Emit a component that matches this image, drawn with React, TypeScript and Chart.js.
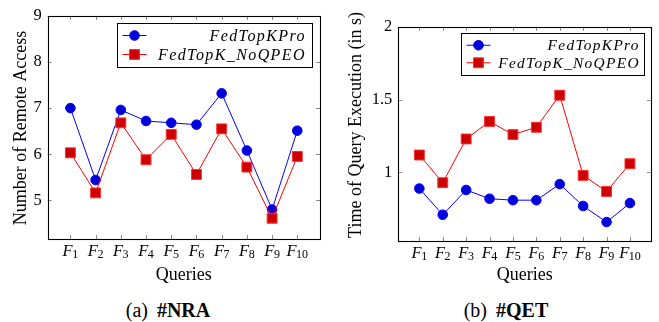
import React, { useEffect, useRef } from 'react';
import { Chart, registerables } from 'chart.js';

Chart.register(...registerables);

// ---------------- data ----------------
const queryNames = ['F', 'F', 'F', 'F', 'F', 'F', 'F', 'F', 'F', 'F'];
const querySubs = ['1', '2', '3', '4', '5', '6', '7', '8', '9', '10'];
const seriesNames = ['FedTopKPro', 'FedTopK_NoQPEO'];
const nraFedTopKPro = [7.0, 5.44, 6.96, 6.72, 6.68, 6.64, 7.32, 6.08, 4.8, 6.51];
const nraNoQPEO = [6.03, 5.16, 6.68, 5.88, 6.43, 5.56, 6.55, 5.72, 4.61, 5.95];
const qetFedTopKPro = [0.89, 0.71, 0.88, 0.82, 0.81, 0.81, 0.92, 0.77, 0.66, 0.79];
const qetNoQPEO = [1.12, 0.93, 1.23, 1.35, 1.26, 1.31, 1.53, 0.98, 0.87, 1.06];
const nraTicks = [5, 6, 7, 8, 9];
const qetTicks = [1, 1.5, 2];
const queryTicks = [1, 2, 3, 4, 5, 6, 7, 8, 9, 10];

type Panel = {
  left: number;
  width: number;
  height: number;
  yAxisWidth: number;
  padRight: number;
  padTop: number;
  xAxisHeight: number;
  yMin: number;
  yMax: number;
  yTicks: number[];
  blue: number[];
  red: number[];
  yTitle: string;
  yTitleX: number;
  yTitleY: number;
  legend: { dx: number; dy: number; w: number; h: number; rowGap: number; sampleW: number; textRight: number; font: number; spacing: number };
};

const panels: Panel[] = [
  {
    left: 0, width: 330, height: 290,
    yAxisWidth: 47.7, padRight: 10, padTop: 13, xAxisHeight: 51,
    yMin: 4.16, yMax: 9, yTicks: nraTicks,
    blue: nraFedTopKPro, red: nraNoQPEO,
    yTitle: 'Number of Remote Access', yTitleX: 21, yTitleY: 128,
    legend: { dx: 8, dy: 7, w: 195, h: 44, rowGap: 19, sampleW: 24, textRight: 8, font: 16, spacing: 1.4 },
  },
  {
    left: 330, width: 329, height: 290,
    yAxisWidth: 68.3, padRight: 4, padTop: 26.7, xAxisHeight: 49,
    yMin: 0.53, yMax: 2, yTicks: qetTicks,
    blue: qetFedTopKPro, red: qetNoQPEO,
    yTitle: 'Time of Query Execution (in s)', yTitleX: 26, yTitleY: 125,
    legend: { dx: 7, dy: 6.3, w: 183, h: 42, rowGap: 17.5, sampleW: 24, textRight: 6, font: 15.4, spacing: 1.3 },
  },
];

const TEXT_FONT = '"Liberation Serif", "DejaVu Serif", serif';

const frameAndLegend = {
  id: 'frameAndLegend',
  beforeDatasetsDraw(chart: any, _args: any, opts: any) {
    const p: Panel = opts.panel;
    const { ctx, chartArea: a } = chart;
    const xs = chart.scales.x;
    const ys = chart.scales.y;
    ctx.save();
    // ticks inward on all four sides
    ctx.strokeStyle = '#8a8a8a';
    ctx.lineWidth = 1;
    const tl = 4;
    ctx.beginPath();
    for (const t of xs.ticks) {
      const x = Math.round(xs.getPixelForValue(t.value)) + 0.5;
      ctx.moveTo(x, a.bottom); ctx.lineTo(x, a.bottom - tl);
      ctx.moveTo(x, a.top); ctx.lineTo(x, a.top + tl);
    }
    for (const t of ys.ticks) {
      const y = Math.round(ys.getPixelForValue(t.value)) + 0.5;
      ctx.moveTo(a.left, y); ctx.lineTo(a.left + tl, y);
      ctx.moveTo(a.right, y); ctx.lineTo(a.right - tl, y);
    }
    ctx.stroke();
    // frame
    ctx.strokeStyle = '#000';
    ctx.lineWidth = 1.1;
    ctx.strokeRect(Math.round(a.left) + 0.5, Math.round(a.top) + 0.5, Math.round(a.right - a.left), Math.round(a.bottom - a.top));
    // x tick labels: italic F with a subscript index
    ctx.fillStyle = '#000';
    ctx.textBaseline = 'alphabetic';
    ctx.textAlign = 'left';
    const mainFont = `italic 16.5px ${TEXT_FONT}`;
    const subFont = `12px ${TEXT_FONT}`;
    for (const t of xs.ticks) {
      const i = t.value - 1;
      ctx.font = mainFont;
      const wMain = ctx.measureText(queryNames[i]).width;
      ctx.font = subFont;
      const wSub = ctx.measureText(querySubs[i]).width;
      const total = wMain + wSub - 0.5;
      const x0 = xs.getPixelForValue(t.value) - total / 2;
      ctx.font = mainFont;
      ctx.fillText(queryNames[i], x0, a.bottom + 16.5);
      ctx.font = subFont;
      ctx.fillText(querySubs[i], x0 + wMain - 0.5, a.bottom + 19);
    }
    // y title
    ctx.font = `18px ${TEXT_FONT}`;
    ctx.textAlign = 'center';
    ctx.textBaseline = 'middle';
    ctx.translate(p.yTitleX, p.yTitleY);
    ctx.rotate(-Math.PI / 2);
    ctx.fillText(p.yTitle, 0, 0);
    ctx.restore();
  },
  afterDraw(chart: any, _args: any, opts: any) {
    const p: Panel = opts.panel;
    const L = p.legend;
    const { ctx, chartArea: a } = chart;
    ctx.save();
    const bx = Math.round(a.right - L.dx - L.w) + 0.5;
    const by = Math.round(a.top + L.dy) + 0.5;
    ctx.fillStyle = '#fff';
    ctx.fillRect(bx, by, L.w, L.h);
    ctx.strokeStyle = '#000';
    ctx.lineWidth = 1;
    ctx.strokeRect(bx, by, L.w, L.h);
    chart.data.datasets.forEach((ds: any, i: number) => {
      const y = by + L.h / 2 - L.rowGap / 2 + i * L.rowGap - 0.5;
      const x1 = bx + 5;
      const x2 = x1 + L.sampleW;
      const cx = (x1 + x2) / 2;
      ctx.strokeStyle = ds.borderColor;
      ctx.lineWidth = 1;
      ctx.beginPath();
      ctx.moveTo(x1, y);
      ctx.lineTo(x2, y);
      ctx.stroke();
      ctx.fillStyle = ds.pointBackgroundColor;
      ctx.strokeStyle = ds.pointBorderColor;
      ctx.beginPath();
      if (ds.pointStyle === 'rect') {
        const s = ds.pointRadius * Math.SQRT1_2;
        ctx.rect(cx - s, y - s, 2 * s, 2 * s);
      } else {
        ctx.arc(cx, y, ds.pointRadius, 0, Math.PI * 2);
      }
      ctx.fill();
      ctx.stroke();
      ctx.fillStyle = '#000';
      ctx.font = `italic ${L.font}px ${TEXT_FONT}`;
      (ctx as any).letterSpacing = `${L.spacing}px`;
      ctx.textAlign = 'right';
      ctx.textBaseline = 'middle';
      ctx.fillText(ds.label, bx + L.w - L.textRight + L.spacing, y + 1);
      (ctx as any).letterSpacing = '0px';
    });
    ctx.restore();
  },
};

function makeConfig(p: Panel): any {
  return {
    type: 'line',
    data: {
      datasets: [
        {
          label: seriesNames[0],
          data: p.blue.map((v, i) => ({ x: queryTicks[i], y: v })),
          borderColor: '#0000ff',
          borderWidth: 1,
          pointStyle: 'circle',
          pointRadius: 4.8,
          pointBackgroundColor: '#0000d8',
          pointBorderColor: '#0000ff',
          pointBorderWidth: 1,
          order: 1,
        },
        {
          label: seriesNames[1],
          data: p.red.map((v, i) => ({ x: queryTicks[i], y: v })),
          borderColor: '#ff0000',
          borderWidth: 1,
          pointStyle: 'rect',
          pointRadius: 7,
          pointBackgroundColor: '#cc0000',
          pointBorderColor: '#ff3030',
          pointBorderWidth: 1,
          order: 0,
        },
      ],
    },
    options: {
      responsive: false,
      animation: false,
      devicePixelRatio: 1,
      layout: { padding: { left: 0, right: p.padRight, top: p.padTop, bottom: 0 } },
      plugins: {
        legend: { display: false },
        tooltip: { enabled: false },
        frameAndLegend: { panel: p },
      },
      scales: {
        x: {
          type: 'linear',
          min: 0.1,
          max: 10.9,
          grid: { display: false, drawTicks: false },
          border: { display: false },
          afterBuildTicks: (s: any) => { s.ticks = queryTicks.map((v) => ({ value: v })); },
          afterFit: (s: any) => { s.height = p.xAxisHeight; },
          ticks: { display: false },
          title: {
            display: true,
            text: 'Queries',
            color: '#000',
            font: { family: TEXT_FONT, size: 18, lineHeight: 1 },
            padding: { top: 0, bottom: 6 },
          },
        },
        y: {
          type: 'linear',
          min: p.yMin,
          max: p.yMax,
          grid: { display: false, drawTicks: false },
          border: { display: false },
          afterBuildTicks: (s: any) => { s.ticks = p.yTicks.map((v) => ({ value: v })); },
          afterFit: (s: any) => { s.width = p.yAxisWidth; },
          ticks: {
            padding: 6,
            color: '#000',
            font: { family: TEXT_FONT, size: 16.5 },
            callback: (v: number) => String(v),
          },
        },
      },
    },
    plugins: [frameAndLegend],
  };
}

function ChartPanel({ p }: { p: Panel }) {
  const ref = useRef<HTMLCanvasElement>(null);
  useEffect(() => {
    let chart: Chart | null = null;
    let cancelled = false;
    const fonts = (document as any).fonts;
    const loads = fonts
      ? Promise.all([
          fonts.load('16px "Liberation Serif"', 'F1ab'),
          fonts.load('italic 16px "Liberation Serif"', 'F1ab'),
          fonts.load('bold 16px "Liberation Serif"', 'ab'),
        ]).catch(() => null)
      : Promise.resolve(null);
    loads.then(() => {
      if (cancelled || !ref.current) return;
      chart = new Chart(ref.current, makeConfig(p));
    });
    return () => {
      cancelled = true;
      if (chart) chart.destroy();
    };
  }, [p]);
  return (
    <canvas
      ref={ref}
      width={p.width}
      height={p.height}
      style={{ position: 'absolute', left: p.left, top: 0, width: p.width, height: p.height }}
    />
  );
}

const captions = [
  { label: '(a)', bold: '#NRA', cx: 168 },
  { label: '(b)', bold: '#QET', cx: 506 },
];

export default function App() {
  return (
    <div style={{ position: 'absolute', left: 0, top: 0, width: 659, height: 322, background: '#fff', overflow: 'hidden' }}>
      {panels.map((p, i) => <ChartPanel key={i} p={p} />)}
      {captions.map((c, i) => (
        <div
          key={i}
          style={{
            position: 'absolute', left: c.cx - 100, width: 200, top: 298, height: 24,
            textAlign: 'center', fontFamily: TEXT_FONT, fontSize: 20, lineHeight: '24px', color: '#000',
          }}
        >
          {c.label}
          <span style={{ marginLeft: 9, fontWeight: 'bold' }}>{c.bold}</span>
        </div>
      ))}
    </div>
  );
}
